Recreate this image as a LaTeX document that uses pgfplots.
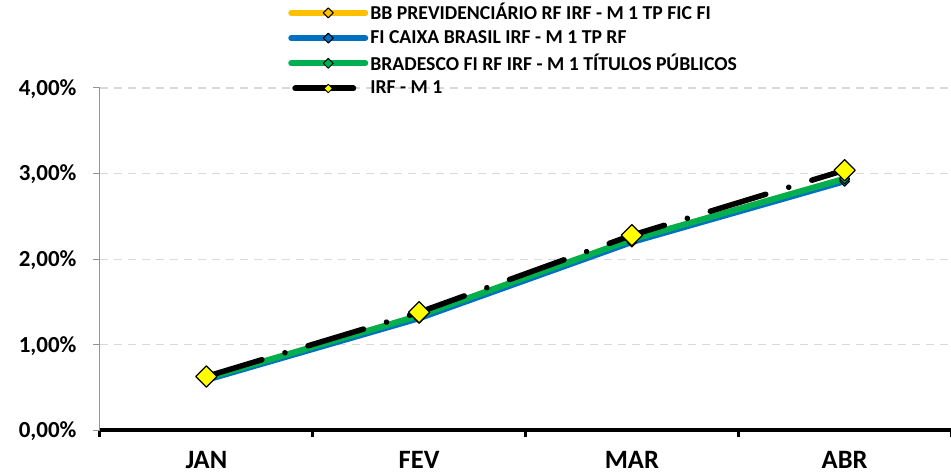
\documentclass[border=0pt]{standalone}
\usepackage{pgfplots}
\pgfplotsset{compat=1.18}
\usepackage{fontspec}
\setmainfont{Carlito}
\definecolor{bbY}{HTML}{FFC000}
\definecolor{cxB}{HTML}{0070C0}
\definecolor{brG}{HTML}{00B050}
\definecolor{mk}{HTML}{FFFF00}
\definecolor{gridc}{HTML}{D9D9D9}
\begin{document}
\begin{tikzpicture}
\begin{axis}[
  name=ax,
  scale only axis, width=851bp, height=342.4bp,
  xmin=0.5, xmax=4.5, ymin=0, ymax=4,
  axis x line*=bottom, axis y line*=left,
  x axis line style={line width=4bp, black, -},
  y axis line style={line width=1bp, gray!85, -},
  xtick={0.5,1.5,2.5,3.5,4.5}, xticklabels={},
  x tick style={draw=black, line width=3bp},
  extra x ticks={1,2,3,4}, extra x tick labels={JAN,FEV,MAR,ABR},
  extra x tick style={major tick length=0pt, tick style={draw=none}, xticklabel style={font=\fontsize{26.5bp}{30bp}\selectfont\bfseries, anchor=center, yshift=-30bp}},
  ytick={0,1,2,3,4}, yticklabels={{0,00\%},{1,00\%},{2,00\%},{3,00\%},{4,00\%}},
  y tick style={draw=gray!85, line width=1bp},
  tick align=outside, major tick length=7bp,
  yticklabel style={font=\fontsize{23bp}{27bp}\selectfont\bfseries, anchor=east, xshift=-13bp, yshift=-1bp},
  ymajorgrids, grid style={gridc, line width=1.2bp, dash pattern=on 8bp off 6bp},
  legend style={at={(0.221,1.255)}, anchor=north west, draw=none, fill=none, font=\fontsize{19.7bp}{24bp}\selectfont\bfseries, row sep=1.2bp, inner sep=0pt, nodes={inner sep=2bp, minimum height=24bp, text depth=0.25em}},
  legend cell align=left,
  legend image code/.code={\draw[#1, mark indices={2}, mark size=3.5bp] plot coordinates {(0bp,0bp)(37bp,0bp)(74bp,0bp)};},
  every axis plot/.append style={line join=round, line cap=round},
]
\addplot[bbY, line width=6bp, mark=square*, mark size=3.5bp, mark options={rotate=45, fill=bbY, draw=black, line width=1bp}] coordinates {(1,0.61)(2,1.34)(3,2.23)(4,2.94)};
\addlegendentry{BB PREVIDENCIÁRIO RF IRF - M 1 TP FIC FI}
\addplot[cxB, line width=6bp, mark=square*, mark size=3.5bp, mark options={rotate=45, fill=cxB, draw=black, line width=1bp}] coordinates {(1,0.59)(2,1.31)(3,2.20)(4,2.91)};
\addlegendentry{FI CAIXA BRASIL IRF - M 1 TP RF}
\addplot[brG, line width=6bp, mark=square*, mark size=3.5bp, mark options={rotate=45, fill=brG, draw=black, line width=1bp}] coordinates {(1,0.61)(2,1.34)(3,2.23)(4,2.94)};
\addlegendentry{BRADESCO FI RF IRF - M 1 TÍTULOS PÚBLICOS}
\addplot[black, line width=5.5bp, dash pattern=on 58bp off 24bp on 0.1bp off 24bp, mark=square*, mark size=7.5bp, mark options={rotate=45, fill=mk, draw=black, line width=1.2bp, solid},
  legend image code/.code={\draw[black, line width=6bp, line cap=round] (4bp,0bp) -- (68bp,0bp); \draw[mark options={rotate=45, fill=mk, draw=black, line width=0.8bp}] plot[mark=square*, mark size=3bp] coordinates {(37bp,0bp)};}] coordinates {(1,0.63)(2,1.38)(3,2.28)(4,3.04)};
\addlegendentry{IRF - M 1}
\end{axis}
\pgfresetboundingbox
\path[use as bounding box] ([shift={(-100bp,-45.6bp)}]ax.south west) rectangle ([shift={(851bp,430.4bp)}]ax.south west);
\end{tikzpicture}
\end{document}
